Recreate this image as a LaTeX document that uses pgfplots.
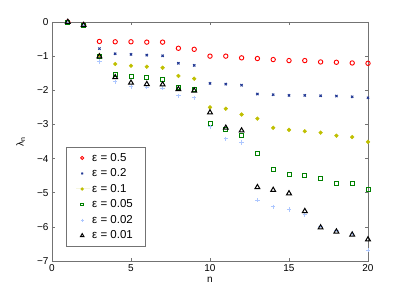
\documentclass[border=0pt]{standalone}
\usepackage{pgfplots}
\pgfplotsset{compat=1.18}
\usepackage{fontspec}
\setmainfont{Liberation Sans}
\definecolor{cred}{rgb}{1,0,0}
\definecolor{cblue}{rgb}{0.13,0.22,0.58}
\definecolor{cyel}{rgb}{0.75,0.75,0}
\definecolor{cgreen}{rgb}{0,0.5,0}
\definecolor{clblue}{rgb}{0.68,0.78,1}
\definecolor{axgray}{rgb}{0.45,0.45,0.45}
\begin{document}
\begin{tikzpicture}
\begin{axis}[
  scale only axis, width=316pt, height=239pt,
  xmin=0, xmax=20, ymin=-7, ymax=0,
  xtick={0,5,10,15,20},
  ytick={-7,-6,-5,-4,-3,-2,-1,0},
  yticklabels={−7,−6,−5,−4,−3,−2,−1,0},
  /pgf/number format/assume math mode=true,
  tick align=inside, tick pos=both, major tick length=3pt,
  axis line style={axgray, line width=0.6pt},
  every tick/.style={axgray, line width=0.6pt},
  tick label style={font=\fontsize{10}{12}\selectfont, black},
  xlabel={n}, ylabel={λ\textsubscript{n}},
  label style={font=\fontsize{10}{12}\selectfont},
  xlabel style={yshift=1pt},
  ylabel style={yshift=5pt},
  legend style={at={(rel axis cs:0.044,0.06)}, anchor=south west,
    draw=axgray, line width=0.6pt, font=\fontsize{11.5}{13.5}\selectfont,
    inner xsep=10pt, inner ysep=4pt, row sep=2pt},
  legend cell align=left,
  legend image code/.code={\path[draw=none] (0pt,0pt) -- (14pt,0pt); \draw[#1,mark options={scale=0.7}] plot coordinates {(6pt,0pt)};},
]
\addplot[only marks, mark=o, mark size=2.2pt, cred, line width=0.9pt] coordinates {
(1,0)(2,-0.09)(3,-0.57)(4,-0.58)(5,-0.58)(6,-0.59)(7,-0.59)(8,-0.77)(9,-0.80)(10,-1.00)
(11,-1.00)(12,-1.05)(13,-1.07)(14,-1.10)(15,-1.13)(16,-1.13)(17,-1.17)(18,-1.18)(19,-1.20)(20,-1.21)};
\addlegendentry{ε = 0.5}
\addplot[only marks, mark=x, mark size=1.6pt, cblue, line width=1pt] coordinates {
(1,0)(2,-0.09)(3,-0.78)(4,-0.93)(5,-0.95)(6,-0.97)(7,-0.99)(8,-1.21)(9,-1.27)(10,-1.80)
(11,-1.82)(12,-1.85)(13,-2.11)(14,-2.13)(15,-2.15)(16,-2.15)(17,-2.16)(18,-2.17)(19,-2.19)(20,-2.22)};
\addlegendentry{ε = 0.2}
\addplot[only marks, mark=*, mark size=1.9pt, cyel, draw=cyel, fill=cyel] coordinates {
(1,0)(2,-0.09)(3,-0.97)(4,-1.23)(5,-1.28)(6,-1.31)(7,-1.34)(8,-1.58)(9,-1.66)(10,-2.50)
(11,-2.54)(12,-2.71)(13,-2.83)(14,-3.10)(15,-3.16)(16,-3.20)(17,-3.24)(18,-3.33)(19,-3.37)(20,-3.51)};
\addlegendentry{ε = 0.1}
\addplot[only marks, mark=square, mark size=2pt, cgreen, line width=0.9pt] coordinates {
(1,0)(2,-0.09)(3,-1.00)(4,-1.55)(5,-1.60)(6,-1.63)(7,-1.68)(8,-1.92)(9,-1.99)(10,-2.97)
(11,-3.14)(12,-3.32)(13,-3.85)(14,-4.33)(15,-4.47)(16,-4.49)(17,-4.59)(18,-4.72)(19,-4.74)(20,-4.91)};
\addlegendentry{ε = 0.05}
\addplot[only marks, mark=+, mark size=2.2pt, clblue, line width=0.9pt] coordinates {
(1,0)(2,-0.09)(3,-1.16)(4,-1.75)(5,-1.90)(6,-1.91)(7,-1.94)(8,-2.16)(9,-2.22)(10,-3.07)
(11,-3.42)(12,-3.53)(13,-5.22)(14,-5.41)(15,-5.49)(16,-5.65)(17,-5.98)(18,-6.10)(19,-6.20)(20,-6.68)};
\addlegendentry{ε = 0.02}
\addplot[only marks, mark=triangle, mark size=2.8pt, black, line width=1pt] coordinates {
(1,0)(2,-0.09)(3,-1.01)(4,-1.62)(5,-1.78)(6,-1.82)(7,-1.83)(8,-1.97)(9,-2.01)(10,-2.65)
(11,-3.10)(12,-3.18)(13,-4.84)(14,-4.92)(15,-5.02)(16,-5.54)(17,-6.02)(18,-6.14)(19,-6.23)(20,-6.37)};
\addlegendentry{ε = 0.01}
\end{axis}
\path ([xshift=-52pt,yshift=-33pt]current axis.south west) rectangle ([xshift=39pt,yshift=22pt]current axis.north east);
\end{tikzpicture}
\end{document}
